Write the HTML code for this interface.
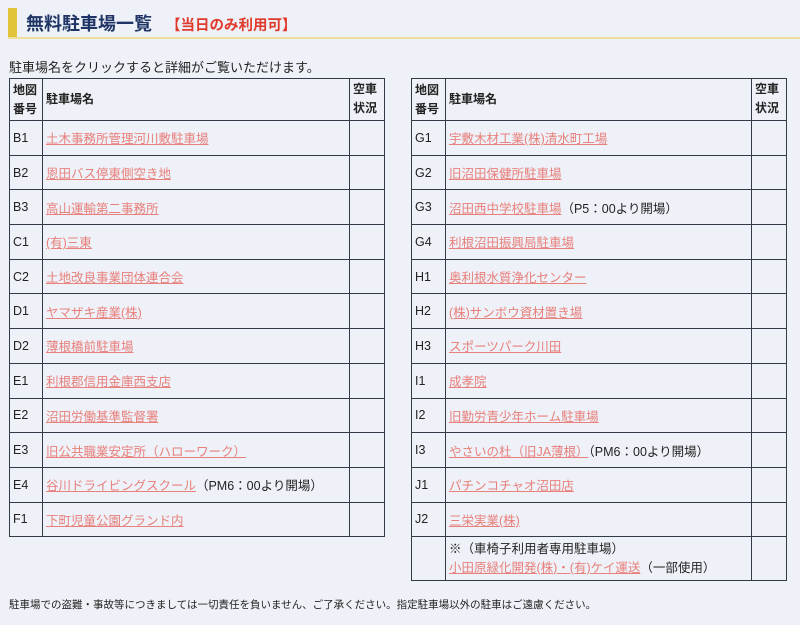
<!DOCTYPE html>
<html><head><meta charset="utf-8"><style>
*{margin:0;padding:0;box-sizing:border-box}
body{width:800px;height:625px;background:#eef1f7;font-family:"Liberation Sans","Noto Sans CJK JP",sans-serif;color:#222;position:relative;overflow:hidden}
.bar{position:absolute;left:8px;top:8px;width:9px;height:31px;background:#e2c43a}
.hline{position:absolute;left:8px;top:37px;width:792px;height:2px;background:#efdf9a}
.title{position:absolute;left:26px;top:10px;font-size:18px;font-weight:bold;color:#1f3565}
.title span{color:#e03a2c;font-size:14.5px;margin-left:14px}
.intro{position:absolute;left:9px;top:57px;font-size:13px}
table{position:absolute;top:78px;border-collapse:collapse;font-size:12.5px}
td{border:1px solid #333a48;padding:0 3px;vertical-align:middle;height:34.7px}
tr.h td{height:42px;font-size:12px;line-height:19px;font-weight:bold}
a{color:#e8807c;text-decoration:underline}
.foot{position:absolute;left:9px;top:597px;font-size:10.5px}
</style></head><body>
<div class="bar"></div><div class="hline"></div>
<div class="title">無料駐車場一覧<span>【当日のみ利用可】</span></div>
<div class="intro">駐車場名をクリックすると詳細がご覧いただけます。</div>
<table style="left:9px;width:376px">
<colgroup><col style="width:33px"><col style="width:308px"><col style="width:35px"></colgroup>
<tr class="h"><td>地図<br>番号</td><td>駐車場名</td><td style="vertical-align:top;padding-top:1px">空車<br>状況</td></tr>
<tr><td>B1</td><td><a>土木事務所管理河川敷駐車場</a></td><td></td></tr>
<tr><td>B2</td><td><a>恩田バス停東側空き地</a></td><td></td></tr>
<tr><td>B3</td><td><a>高山運輸第二事務所</a></td><td></td></tr>
<tr><td>C1</td><td><a>(有)三東</a></td><td></td></tr>
<tr><td>C2</td><td><a>土地改良事業団体連合会</a></td><td></td></tr>
<tr><td>D1</td><td><a>ヤマザキ産業(株)</a></td><td></td></tr>
<tr><td>D2</td><td><a>薄根橋前駐車場</a></td><td></td></tr>
<tr><td>E1</td><td><a>利根郡信用金庫西支店</a></td><td></td></tr>
<tr><td>E2</td><td><a>沼田労働基準監督署</a></td><td></td></tr>
<tr><td>E3</td><td><a>旧公共職業安定所（ハローワーク）</a></td><td></td></tr>
<tr><td>E4</td><td><a>谷川ドライビングスクール</a>（PM6：00より開場）</td><td></td></tr>
<tr><td>F1</td><td><a>下町児童公園グランド内</a></td><td></td></tr>
</table>
<table style="left:411px;width:376px">
<colgroup><col style="width:34px"><col style="width:307px"><col style="width:35px"></colgroup>
<tr class="h"><td>地図<br>番号</td><td>駐車場名</td><td style="vertical-align:top;padding-top:1px">空車<br>状況</td></tr>
<tr><td>G1</td><td><a>宇敷木材工業(株)清水町工場</a></td><td></td></tr>
<tr><td>G2</td><td><a>旧沼田保健所駐車場</a></td><td></td></tr>
<tr><td>G3</td><td><a>沼田西中学校駐車場</a>（P5：00より開場）</td><td></td></tr>
<tr><td>G4</td><td><a>利根沼田振興局駐車場</a></td><td></td></tr>
<tr><td>H1</td><td><a>奥利根水質浄化センター</a></td><td></td></tr>
<tr><td>H2</td><td><a>(株)サンボウ資材置き場</a></td><td></td></tr>
<tr><td>H3</td><td><a>スポーツパーク川田</a></td><td></td></tr>
<tr><td>I1</td><td><a>成孝院</a></td><td></td></tr>
<tr><td>I2</td><td><a>旧勤労青少年ホーム駐車場</a></td><td></td></tr>
<tr><td>I3</td><td><a>やさいの杜（旧JA薄根）</a>（PM6：00より開場）</td><td></td></tr>
<tr><td>J1</td><td><a>パチンコチャオ沼田店</a></td><td></td></tr>
<tr><td>J2</td><td><a>三栄実業(株)</a></td><td></td></tr>
<tr><td style="height:44px"></td><td style="line-height:19px">※（車椅子利用者専用駐車場）<br><a>小田原緑化開発(株)・(有)ケイ運送</a>（一部使用）</td><td></td></tr>
</table>
<div class="foot">駐車場での盗難・事故等につきましては一切責任を負いません、ご了承ください。指定駐車場以外の駐車はご遠慮ください。</div>
</body></html>
